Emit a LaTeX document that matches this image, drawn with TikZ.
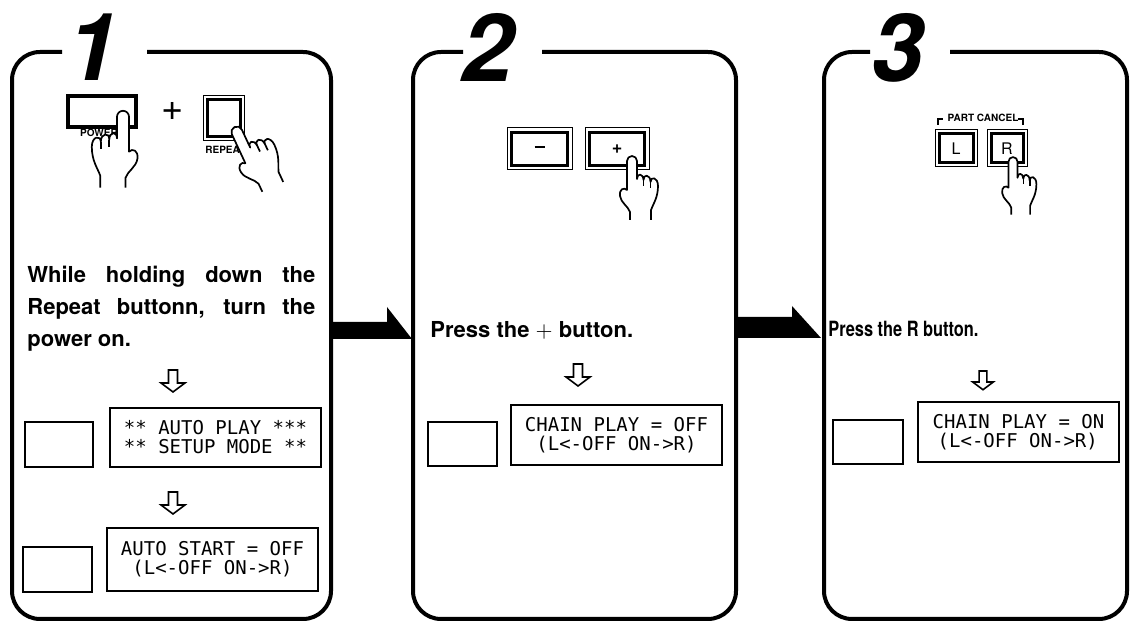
\documentclass[tikz,border=0pt]{standalone}
\usepackage{fontspec}
\usepackage{graphicx}
\setmainfont{TeX Gyre Heros}
\newfontfamily\lcdfont{DejaVu Sans Mono}
\usepackage{tikz}
\usetikzlibrary{positioning}
\tikzstyle{panel} = [line width=2pt, rounded corners=14pt]
\tikzstyle{stepnum} = [inner sep=0pt, font=\fontsize{47}{47}\selectfont\bfseries\itshape]
\tikzstyle{instr} = [inner sep=0pt, font=\fontsize{11}{16}\selectfont\bfseries]
\tikzstyle{lcd} = [draw, line width=0.6pt, inner sep=0pt, font=\lcdfont\fontsize{9.5}{9.5}\selectfont, align=center]
\tikzstyle{blank} = [draw, line width=0.6pt, inner sep=0pt]
\tikzstyle{keyrim} = [draw, line width=0.5pt, inner sep=0pt]
\tikzstyle{keyface} = [draw, line width=1.5pt, inner sep=0pt, font=\fontsize{8}{8}\selectfont]
\tikzstyle{keylabel} = [inner sep=0pt, font=\fontsize{5}{5}\selectfont\bfseries]
\tikzstyle{bigarrow} = [fill=black]
\tikzset{
  % pointing hand, finger tip at the origin
  hand/.pic={
    \draw[line width=0.85pt, fill=white, line join=round]
      (19,63) -- (19,53) .. controls (21,47) and (26,41) .. (26,29)
      .. controls (26,20) and (18.5,19) .. (18.5,25)
      .. controls (18.5,17) and (11,17) .. (11.5,23)
      .. controls (11,16) and (5,16) .. (5,22)
      -- (5,4) arc[start angle=0, end angle=-180, radius=5]
      -- (-5,33) .. controls (-8,30) and (-13,32) .. (-12,39)
      .. controls (-11,46) and (-4,49) .. (-2,55) -- (-2,63);
    \draw[line width=0.85pt] (11.5,23) -- (11.5,29) (18.5,25) -- (18.5,31);
  },
  % hollow arrow between the steps of a panel
  downarrow/.pic={
    \draw[line width=0.8pt, fill=white, line join=miter]
      (-4.5,0) -- (4.5,0) -- (4.5,13) -- (12,13) -- (0,22)
      -- (-12,13) -- (-4.5,13) -- cycle;
  }
}

\begin{document}
\begin{tikzpicture}[x=0.5pt, y=-0.5pt]
	\useasboundingbox[fill=white] (0,0) rectangle (1130,624);

	% the three panels
	\draw[panel] (147,52) -- (331,52) -- (331,619) -- (12,619) -- (12,52) -- (62,52);
	\draw[panel] (542,52) -- (736,52) -- (736,619) -- (413,619) -- (413,52) -- (463,52);
	\draw[panel] (950,52) -- (1127,52) -- (1127,619) -- (824,619) -- (824,52) -- (870,52);
	\node[stepnum] (one) at (93,47) {1};
	\node[stepnum] (two) at (488,47) {2};
	\node[stepnum] (three) at (898,48) {3};

	% arrows from panel to panel
	\coordinate (oneR) at (331,339);
	\coordinate (twoL) at (412,339);
	\coordinate (twoR) at (736,338);
	\coordinate (threeL) at (821,338);
	\fill[bigarrow] (oneR) -- ++(0,-17) -- ++(56,0) -- ++(0,-15) -- (twoL) -- cycle;
	\fill[bigarrow] (twoR) -- ++(0,-21) -- ++(56,0) -- ++(0,-11) -- (threeL) -- cycle;

	% step 1
	\node[keyface, line width=2pt, minimum width=34pt, minimum height=15.5pt] (power) at (102,111.5) {};
	\node[keylabel] (powerlbl) at (99,133) {POWER};
	\node[font=\fontsize{19}{19}\selectfont] (plus) at (173,112) {+};
	\node[keyrim, minimum width=20.5pt, minimum height=22.5pt] (reprim) at (223.5,118.5) {};
	\node[keyface, minimum width=16.5pt, minimum height=18.5pt] (repeat) at (reprim) {};
	\node[keylabel, anchor=west] (replbl) at (205,150) {REPEAT};
	\pic[xscale=-1.2, yscale=1.2] at (123,112) {hand};
	\pic[rotate=25, scale=1.1] at (235,128) {hand};

	\node[instr, text width=144pt, align=justify, anchor=north west] (hold) at (27,266)
		{While holding down the Repeat buttonn, turn the power on.};
	\pic at (173,370) {downarrow};
	\node[blank, minimum width=34pt, minimum height=22.5pt] (dispA) at (59,444.5) {};
	\node[lcd, minimum width=105.5pt, minimum height=29.5pt] (setup) at (215.5,437.5)
		{** AUTO PLAY ***\\** SETUP MODE **};
	\pic at (173,492) {downarrow};
	\node[blank, minimum width=34.5pt, minimum height=22.5pt] (dispB) at (57.5,569.5) {};
	\node[lcd, minimum width=105.5pt, minimum height=31.5pt] (autostart) at (212.5,559.5)
		{AUTO START = OFF\\(L<-OFF ON->R)};

	% step 2
	\node[keyrim, minimum width=32.5pt, minimum height=21pt] (minusrim) at (539.5,149) {};
	\node[keyface, minimum width=28pt, minimum height=16.5pt] (minus) at (minusrim) {\rule[2.2pt]{5pt}{1.1pt}};
	\node[keyrim, minimum width=32pt, minimum height=21pt] (plusrim) at (617,149) {};
	\node[keyface, minimum width=27.5pt, minimum height=16.5pt, font=\fontsize{9}{9}\selectfont\bfseries] (pluskey) at (plusrim) {+};
	\pic at (632,157) {hand};

	\node[instr, anchor=base west] (pressplus) at (430,338) {Press the $+$ button.};
	\pic at (578,364) {downarrow};
	\node[blank, minimum width=34.5pt, minimum height=22pt] (dispC) at (462.5,444) {};
	\node[lcd, minimum width=105.5pt, minimum height=30pt] (chainoff) at (616.5,435)
		{CHAIN PLAY = OFF\\(L<-OFF ON->R)};

	% step 3
	\node[keylabel] (cancel) at (983,118) {PART CANCEL};
	\draw[line width=0.6pt] (938,125) |- (943,119);
	\draw[line width=0.6pt] (1023,125) |- (1018,119);
	\node[keyrim, minimum width=21pt, minimum height=18.5pt] (lrim) at (956,148.5) {};
	\node[keyface, minimum width=17pt, minimum height=14.5pt] (lkey) at (lrim) {L};
	\node[keyrim, minimum width=20pt, minimum height=18.5pt] (rrim) at (1007,148.5) {};
	\node[keyface, minimum width=16pt, minimum height=14.5pt] (rkey) at (rrim) {R};
	\pic[scale=0.9] at (1013,158) {hand};

	\node[instr, font=\fontsize{10.5}{12}\selectfont\bfseries, anchor=base west] (pressr) at (828,337)
		{\scalebox{0.78}[1]{Press the R button.}};
	\pic[scale=0.85] at (983,371) {downarrow};
	\node[blank, minimum width=35pt, minimum height=22pt] (dispD) at (868,442) {};
	\node[lcd, align=left, minimum width=100.5pt, minimum height=30pt] (chainon) at (1018.5,432)
		{CHAIN PLAY = ON\\\hspace*{2.5pt}(L<-OFF ON->R)};
\end{tikzpicture}
\end{document}
